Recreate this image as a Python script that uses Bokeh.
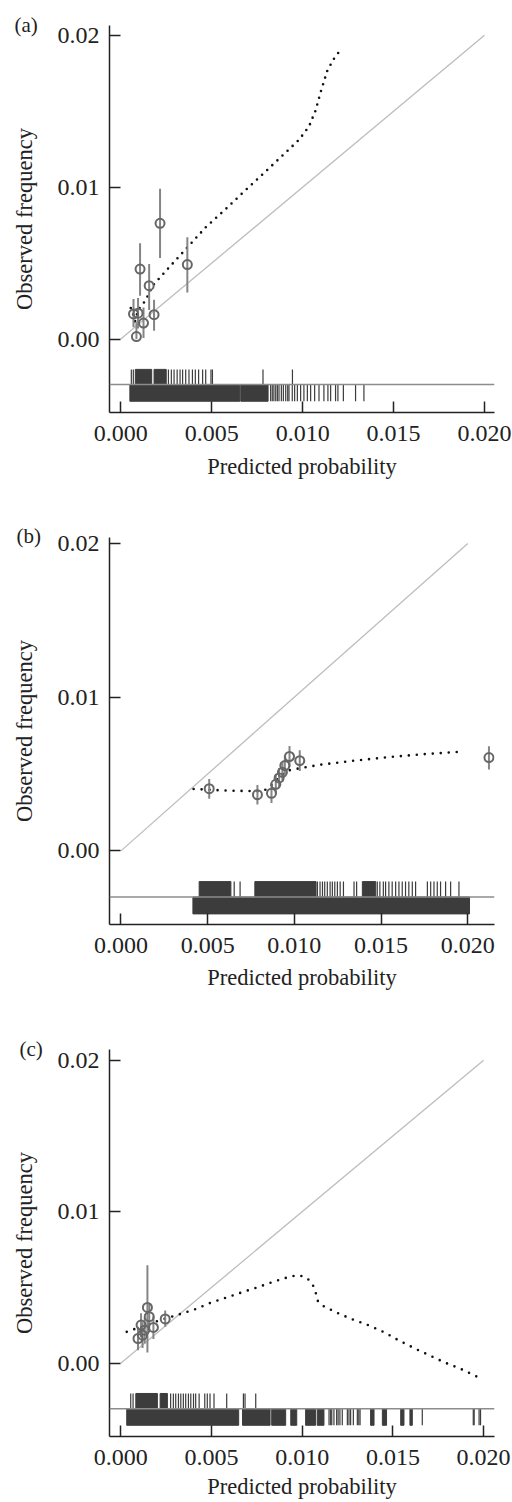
from bokeh.plotting import figure
from bokeh.layouts import column
from bokeh.models import Range1d, FixedTicker, PrintfTickFormatter, Span, Title
from bokeh.embed import file_html
from bokeh.resources import INLINE

# ---------------- data ----------------
x_ticks = [0.0, 0.005, 0.010, 0.015, 0.020]
y_ticks = [0.0, 0.01, 0.02]
diag = [0.0, 0.02]

# Panel (a)
a_pred = [0.00070, 0.00086, 0.00095, 0.00106, 0.00125, 0.00156, 0.00183, 0.00216, 0.00366]
a_obs = [0.00165, 0.00016, 0.00170, 0.00461, 0.00105, 0.00351, 0.00160, 0.00762, 0.00490]
a_lo = [0.00077, 0.00000, 0.00070, 0.00285, 0.00007, 0.00191, 0.00055, 0.00534, 0.00307]
a_hi = [0.00264, 0.00110, 0.00270, 0.00630, 0.00208, 0.00494, 0.00259, 0.00989, 0.00670]
a_curve_x = [0.00055, 0.00072, 0.00074, 0.00095, 0.00128, 0.00152, 0.00174, 0.00266, 0.00375,
             0.00467, 0.00568, 0.00668, 0.00778, 0.00879, 0.00980, 0.01035, 0.01071, 0.01099,
             0.01136, 0.01172, 0.01213]
a_curve_y = [0.00204, 0.00149, 0.00094, 0.00191, 0.00241, 0.00292, 0.00350, 0.00472, 0.00615,
             0.00736, 0.00846, 0.00960, 0.01083, 0.01197, 0.01312, 0.01400, 0.01505, 0.01626,
             0.01769, 0.01846, 0.01912]
a_event_blocks_lo = [0.00080, 0.00183]
a_event_blocks_hi = [0.00170, 0.00250]
a_event_ticks = [0.00058, 0.00069, 0.00262, 0.00278, 0.00293, 0.00310, 0.00326, 0.00340, 0.00357,
                 0.00375, 0.00394, 0.00410, 0.00428, 0.00450, 0.00467, 0.00496, 0.00504, 0.00782,
                 0.00944]
a_nonevent_blocks_lo = [0.00050, 0.00660]
a_nonevent_blocks_hi = [0.00655, 0.00810]
a_nonevent_ticks = [0.00824, 0.00833, 0.00842, 0.00852, 0.00861, 0.00870, 0.00883, 0.00894, 0.00907,
                    0.00918, 0.00925, 0.00943, 0.00956, 0.00971, 0.00989, 0.01007, 0.01026, 0.01044,
                    0.01066, 0.01090, 0.01117, 0.01139, 0.01154, 0.01181, 0.01194, 0.01224, 0.01291,
                    0.01337]

# Panel (b)
b_pred = [0.00509, 0.00787, 0.00868, 0.00893, 0.00912, 0.00931, 0.00945, 0.00972, 0.01031, 0.02122]
b_obs = [0.00405, 0.00366, 0.00375, 0.00433, 0.00475, 0.00511, 0.00555, 0.00614, 0.00587, 0.00607]
b_lo = [0.00340, 0.00301, 0.00312, 0.00370, 0.00412, 0.00448, 0.00490, 0.00545, 0.00520, 0.00530]
b_hi = [0.00468, 0.00428, 0.00440, 0.00498, 0.00540, 0.00576, 0.00620, 0.00683, 0.00655, 0.00680]
b_curve_x = [0.00419, 0.00611, 0.00803, 0.00848, 0.00883, 0.00931, 0.00960, 0.01008, 0.01152,
             0.01344, 0.01536, 0.01728, 0.01978]
b_curve_y = [0.00403, 0.00392, 0.00388, 0.00403, 0.00446, 0.00500, 0.00522, 0.00533, 0.00561,
             0.00587, 0.00609, 0.00628, 0.00646]
b_event_blocks_lo = [0.00451, 0.00772, 0.01392]
b_event_blocks_hi = [0.00634, 0.01125, 0.01469]
b_event_ticks = [0.00653, 0.00687, 0.01133, 0.01148, 0.01162, 0.01175, 0.01190, 0.01206, 0.01219,
                 0.01233, 0.01248, 0.01264, 0.01283, 0.01344, 0.01359, 0.01478, 0.01493, 0.01513,
                 0.01526, 0.01545, 0.01564, 0.01584, 0.01603, 0.01622, 0.01641, 0.01660, 0.01680,
                 0.01699, 0.01767, 0.01786, 0.01805, 0.01824, 0.01843, 0.01872, 0.01901, 0.01949]
b_nonevent_blocks_lo = [0.00415]
b_nonevent_blocks_hi = [0.02010]
b_nonevent_ticks = []

# Panel (c)
c_pred = [0.00095, 0.00112, 0.00120, 0.00132, 0.00147, 0.00157, 0.00180, 0.00245]
c_obs = [0.00163, 0.00252, 0.00185, 0.00218, 0.00368, 0.00307, 0.00236, 0.00292]
c_lo = [0.00085, 0.00170, 0.00100, 0.00130, 0.00070, 0.00220, 0.00160, 0.00240]
c_hi = [0.00240, 0.00330, 0.00270, 0.00300, 0.00646, 0.00390, 0.00310, 0.00348]
c_curve_x = [0.00033, 0.00180, 0.00316, 0.00404, 0.00492, 0.00579, 0.00670, 0.00757, 0.00845,
             0.00937, 0.00983, 0.01025, 0.01056, 0.01074, 0.01084, 0.01111, 0.01197, 0.01282,
             0.01368, 0.01451, 0.01533, 0.01625, 0.01781, 0.01873, 0.01965]
c_curve_y = [0.00207, 0.00270, 0.00320, 0.00353, 0.00397, 0.00432, 0.00469, 0.00502, 0.00540,
             0.00573, 0.00580, 0.00564, 0.00525, 0.00469, 0.00414, 0.00381, 0.00330, 0.00287,
             0.00249, 0.00205, 0.00150, 0.00095, 0.00007, -0.00037, -0.00090]
c_event_blocks_lo = [0.00083, 0.00217]
c_event_blocks_hi = [0.00202, 0.00257]
c_event_ticks = [0.00055, 0.00068, 0.00275, 0.00290, 0.00303, 0.00318, 0.00331, 0.00345, 0.00358,
                 0.00373, 0.00386, 0.00401, 0.00413, 0.00432, 0.00463, 0.00477, 0.00492, 0.00514,
                 0.00584, 0.00676, 0.00685, 0.00744]
c_nonevent_blocks_lo = [0.00033, 0.00671, 0.00832, 0.00937, 0.01019, 0.01083, 0.01377, 0.01442,
                        0.01543, 0.01594]
c_nonevent_blocks_hi = [0.00650, 0.00823, 0.00909, 0.00970, 0.01074, 0.01120, 0.01396, 0.01465,
                        0.01561, 0.01607]
c_nonevent_ticks = [0.01148, 0.01157, 0.01163, 0.01175, 0.01190, 0.01198, 0.01208, 0.01221, 0.01249,
                    0.01258, 0.01267, 0.01282, 0.01304, 0.01312, 0.01319, 0.01662, 0.01943, 0.01948,
                    0.01975, 0.01983]

# ---------------- style ----------------
SERIF = "Liberation Serif"
TXT = "#222222"
RUG = "#3c3c3c"
RUG_BASE, RUG_TOP, RUG_BOTTOM = -0.003, -0.002, -0.0041


def panel(letter, pred, obs, lo, hi, cx, cy, ev_lo, ev_hi, ev_t, ne_lo, ne_hi, ne_t,
          xr, yr, height, btop, bbot, dash, letter_off, letter_standoff, xlab_standoff):
    p = figure(width=512, height=height, x_range=Range1d(*xr), y_range=Range1d(*yr),
               output_backend="svg", toolbar_location=None,
               min_border_left=109, min_border_right=18,
               min_border_top=btop, min_border_bottom=bbot)
    p.outline_line_color = None
    p.grid.visible = False
    p.background_fill_color = "white"
    p.border_fill_color = "white"

    p.xaxis.ticker = FixedTicker(ticks=x_ticks)
    p.xaxis.formatter = PrintfTickFormatter(format="%.3f")
    p.yaxis.ticker = FixedTicker(ticks=y_ticks)
    p.yaxis.formatter = PrintfTickFormatter(format="%.2f")
    for ax in (p.xaxis, p.yaxis):
        ax.major_tick_in = 11
        ax.major_tick_out = 0
        ax.minor_tick_line_color = None
        ax.axis_line_color = TXT
        ax.axis_line_width = 1.5
        ax.major_tick_line_color = TXT
        ax.major_tick_line_width = 1.5
        ax.major_label_text_font = SERIF
        ax.major_label_text_font_size = "24px"
        ax.major_label_text_color = TXT
        ax.axis_label_text_font = SERIF
        ax.axis_label_text_font_size = "22.5px"
        ax.axis_label_text_font_style = "normal"
        ax.axis_label_text_color = TXT
    p.xaxis.major_label_standoff = 13
    p.yaxis.major_label_standoff = 10
    p.yaxis.axis_label = "Observed frequency"
    p.yaxis.axis_label_standoff = 18
    p.xaxis.axis_label = "Predicted probability"
    p.xaxis.axis_label_standoff = xlab_standoff

    # panel letter
    p.add_layout(Title(text=letter, align="left", offset=letter_off, standoff=letter_standoff,
                       text_font=SERIF, text_font_size="21px", text_font_style="normal",
                       text_color=TXT), "above")

    # diagonal reference line
    p.line(diag, diag, line_color="#bdbdbd", line_width=1.3)

    # rug plots
    p.quad(left=ev_lo, right=ev_hi, bottom=RUG_BASE, top=RUG_TOP,
           fill_color=RUG, line_color=RUG, line_width=1)
    if ev_t:
        p.segment(x0=ev_t, y0=[RUG_BASE] * len(ev_t), x1=ev_t, y1=[RUG_TOP] * len(ev_t),
                  line_color=RUG, line_width=1.2)
    p.quad(left=ne_lo, right=ne_hi, bottom=RUG_BOTTOM, top=RUG_BASE,
           fill_color=RUG, line_color=RUG, line_width=1)
    if ne_t:
        p.segment(x0=ne_t, y0=[RUG_BASE] * len(ne_t), x1=ne_t, y1=[RUG_BOTTOM] * len(ne_t),
                  line_color=RUG, line_width=1.2)
    p.add_layout(Span(location=RUG_BASE, dimension="width", line_color="#8c8c8c", line_width=1.5))

    # smoothed calibration curve (dotted)
    p.line(cx, cy, line_color="#111111", line_width=2.6, line_dash=dash, line_cap="round")

    # grouped observed frequencies with intervals
    p.segment(x0=pred, y0=lo, x1=pred, y1=hi, line_color="#858585", line_width=2)
    p.scatter(pred, obs, marker="circle", size=9, fill_color=None,
              line_color="#666666", line_width=2)
    return p


pa = panel("(a)", a_pred, a_obs, a_lo, a_hi, a_curve_x, a_curve_y,
           a_event_blocks_lo, a_event_blocks_hi, a_event_ticks,
           a_nonevent_blocks_lo, a_nonevent_blocks_hi, a_nonevent_ticks,
           (-0.00062, 0.02055), (-0.00484, 0.02065), 500, 25, 88, "0 7", -95, -22, 10)
pb = panel("(b)", b_pred, b_obs, b_lo, b_hi, b_curve_x, b_curve_y,
           b_event_blocks_lo, b_event_blocks_hi, b_event_ticks,
           b_nonevent_blocks_lo, b_nonevent_blocks_hi, b_nonevent_ticks,
           (-0.00066, 0.02154), (-0.00479, 0.02039), 510, 37, 86, "0 8", -93, -20, 9)
pc = panel("(c)", c_pred, c_obs, c_lo, c_hi, c_curve_x, c_curve_y,
           c_event_blocks_lo, c_event_blocks_hi, c_event_ticks,
           c_nonevent_blocks_lo, c_nonevent_blocks_hi, c_nonevent_ticks,
           (-0.00062, 0.02060), (-0.00484, 0.02071), 492, 39, 66, "0 8", -90, -22, 6)

layout = column(pa, pb, pc, spacing=0)
open("out.html", "w").write(file_html(layout, INLINE))
